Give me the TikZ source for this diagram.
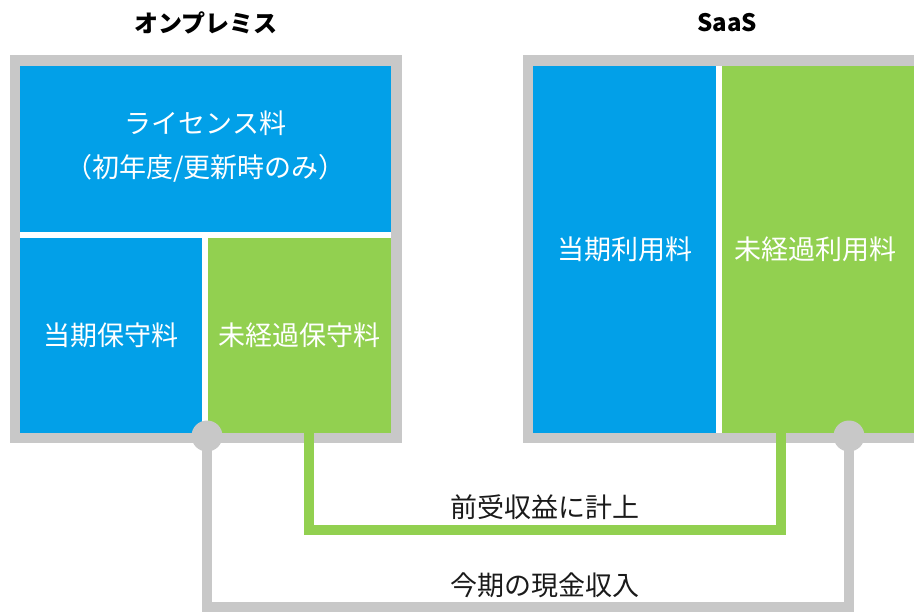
\documentclass[tikz,border=0pt]{standalone}
\usepackage{fontspec}
\setmainfont{Noto Sans CJK JP}
\definecolor{cblue}{HTML}{02A0E8}
\definecolor{cgreen}{HTML}{92D050}
\definecolor{cgray}{HTML}{C8C8C8}
\definecolor{ctext}{HTML}{1A1A1A}
\begin{document}
\begin{tikzpicture}[x=1pt,y=-1pt,
  cell/.style={draw=none,inner sep=0pt,text=white,font=\fontsize{27}{32}\selectfont,align=center},
  bluecell/.style={cell,fill=cblue},
  greencell/.style={cell,fill=cgreen},
  celltext/.style={cell,fill=none},
  title/.style={font=\fontsize{24}{30}\selectfont\bfseries,text=black,inner sep=0pt},
  lbl/.style={font=\fontsize{27}{30}\selectfont,text=ctext,inner sep=0pt},
  grayline/.style={draw=cgray,line width=10pt,line join=miter},
  greenline/.style={draw=cgreen,line width=10pt,line join=miter},
  dot/.style={circle,fill=cgray,draw=none,minimum size=31pt,inner sep=0pt}]
\useasboundingbox (0,0) rectangle (914,613);
\clip (0,0) rectangle (914,613);
% frames
\fill[cgray] (10,55) rectangle (402,443);
\fill[white] (20,66) rectangle (391,433);
\fill[cgray] (523,55) rectangle (930,443);
\fill[white] (533,66) rectangle (920,433);
% cells
\node[bluecell,minimum width=371pt,minimum height=166pt] (lic) at (205.5,149) {};
\node[celltext] (lict) at (205.5,147) {ライセンス料\\[12pt]（初年度/更新時のみ）};
\node[bluecell,minimum width=182pt,minimum height=195pt] (cur) at (111,335.5) {当期保守料};
\node[greencell,minimum width=183pt,minimum height=195pt] (unr) at (299.5,335.5) {未経過保守料};
\node[bluecell,minimum width=183pt,minimum height=367pt] (scur) at (624.5,249.5) {当期利用料};
\node[greencell,minimum width=200pt,minimum height=367pt] (sunr) at (822,249.5) {\hspace*{-14pt}未経過利用料};
% titles
\node[title] (t1) at (206,23) {オンプレミス};
\node[title] (t2) at (727,23) {SaaS};
% connectors
\coordinate (g1) at (309,433);
\coordinate (g2) at (781,433);
\coordinate (gb) at (0,530);
\draw[greenline] (g1) -- (g1 |- gb) -- (g2 |- gb) -- (g2);
\coordinate (cLc) at (207,436);
\coordinate (cRc) at (849,436);
\coordinate (yb) at (0,607);
\draw[grayline] (cLc) -- (cLc |- yb) -- (cRc |- yb) -- (cRc);
\node[dot] (cL) at (cLc) {};
\node[dot] (cR) at (cRc) {};
\node[lbl] (l1) at (545,507) {前受収益に計上};
\node[lbl] (l2) at (545,585) {今期の現金収入};
\end{tikzpicture}
\end{document}
